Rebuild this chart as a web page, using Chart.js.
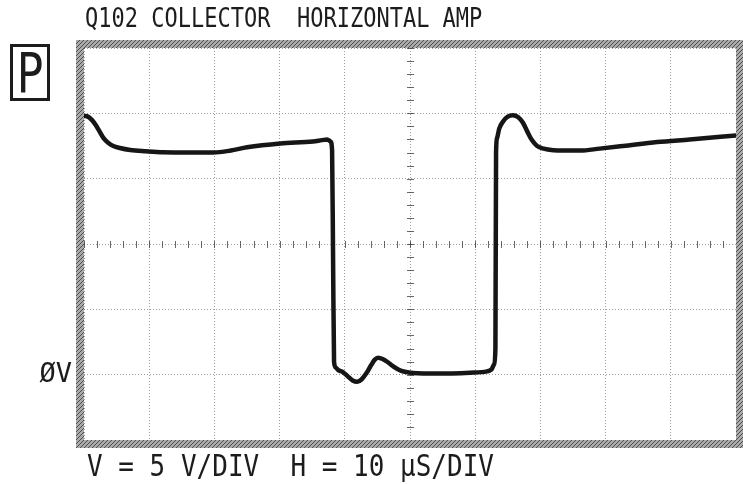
<!DOCTYPE html>
<html>
<head>
<meta charset="utf-8">
<title>Q102 COLLECTOR HORIZONTAL AMP</title>
<script src="https://cdn.jsdelivr.net/npm/chart.js@4/dist/chart.umd.min.js"></script>
<style>
  html, body { margin: 0; padding: 0; background: #fff; }
  #wrap { position: relative; width: 743px; height: 484px; overflow: hidden; }
  #scope { position: absolute; left: 0; top: 0; }
  .lbl { position: absolute; white-space: pre; font-family: "DejaVu Sans Mono", monospace; color: #1c1c1c;
         line-height: 1; transform-origin: 0 0; }
  #title { left: 85px; top: 5px; font-size: 22px; transform: scaleY(1.2); }
  #scale { left: 87px; top: 451px; font-size: 26px; transform: scaleY(1.15); }
  #probe { position: absolute; left: 10px; top: 44px; width: 34px; height: 51px; border: 3px solid #1c1c1c;
           font-family: "DejaVu Sans", sans-serif; font-size: 56px; line-height: 51px; text-align: center; color: #1c1c1c; }
  #probe span { display: inline-block; transform: scaleX(0.78); }
</style>
</head>
<body>
<div id="wrap">
  <canvas id="scope" width="743" height="484"></canvas>
  <div class="lbl" id="title">Q102 COLLECTOR  HORIZONTAL AMP</div>
  <div class="lbl" id="scale">V = 5 V/DIV  H = 10 μS/DIV</div>
  <div id="probe"><span>P</span></div>
</div>
<script>
// Sweep time (µs) and collector voltage (V) of the traced waveform
const timeUs = [0, 0.6, 1.2, 1.8, 2.4, 3.0, 3.7, 4.5, 5.5, 7.1, 9.5, 12.1, 16.0, 19.8, 22.5, 25.0,
  30.1, 35.1, 36.5, 37.3, 37.8, 38.05, 38.2, 38.35, 38.6, 39.0, 39.7, 40.5, 41.2, 41.9, 42.6, 43.3,
  44.0, 44.6, 45.1, 45.8, 46.6, 47.4, 48.2, 49.2, 50.5, 54.1, 59.2, 61.8, 62.5, 62.9, 63.1, 63.2,
  63.35, 63.7, 64.3, 65.0, 65.8, 66.6, 67.3, 68.0, 68.7, 69.5, 70.5, 72.0, 73.5, 76.1, 79.1, 82.7,
  87.9, 92.9, 100];
const volts = [19.8, 19.75, 19.5, 19.1, 18.6, 18.1, 17.75, 17.5, 17.35, 17.2, 17.1, 17.02, 17.0, 17.0, 17.15, 17.4,
  17.7, 17.85, 17.95, 18.0, 17.85, 17.2, 9.0, 1.0, 0.55, 0.35, 0.2, -0.15, -0.45, -0.55, -0.35, 0.1,
  0.7, 1.15, 1.3, 1.2, 0.95, 0.65, 0.4, 0.22, 0.12, 0.08, 0.15, 0.25, 0.4, 0.8, 2.0, 17.0,
  18.1, 18.85, 19.4, 19.75, 19.85, 19.7, 19.3, 18.6, 17.95, 17.5, 17.3, 17.18, 17.15, 17.15, 17.3, 17.5,
  17.8, 18.0, 18.3];

// Graticule: 10 horizontal divisions of 10 µs, 6 vertical divisions of 5 V
const timeTicks = [0, 10, 20, 30, 40, 50, 60, 70, 80, 90, 100];
const voltTicks = [-5, 0, 5, 10, 15, 20, 25];
const zeroLabel = 'ØV';

const points = timeUs.map((t, i) => ({ x: t, y: volts[i] }));

// Centre cross with minor subdivision marks (5 per division)
const centreCross = {
  id: 'centreCross',
  beforeDatasetsDraw(chart) {
    const { ctx, scales: { x, y } } = chart;
    const cx = x.getPixelForValue(50), cy = y.getPixelForValue(10);
    ctx.save();
    ctx.strokeStyle = 'rgba(40,40,40,0.7)';
    ctx.lineWidth = 1;
    for (let t = 0; t <= 100; t += 2) {
      const px = Math.round(x.getPixelForValue(t)) + 0.5;
      ctx.beginPath(); ctx.moveTo(px, cy - 3); ctx.lineTo(px, cy + 4); ctx.stroke();
    }
    for (let v = -5; v <= 25; v += 1) {
      const py = Math.round(y.getPixelForValue(v)) + 0.5;
      ctx.beginPath(); ctx.moveTo(cx - 3, py); ctx.lineTo(cx + 4, py); ctx.stroke();
    }
    ctx.restore();
  }
};

// Hatched bezel round the screen
const bezel = {
  id: 'bezel',
  afterDraw(chart) {
    const { ctx, chartArea: a } = chart;
    const pc = document.createElement('canvas');
    pc.width = 4; pc.height = 4;
    const p = pc.getContext('2d');
    p.fillStyle = '#ababab'; p.fillRect(0, 0, 4, 4);
    p.fillStyle = '#4d4d4d';
    p.fillRect(0, 3, 1, 1); p.fillRect(1, 2, 1, 1); p.fillRect(2, 1, 1, 1); p.fillRect(3, 0, 1, 1);
    ctx.save();
    ctx.strokeStyle = ctx.createPattern(pc, 'repeat');
    ctx.lineWidth = 8;
    ctx.strokeRect(a.left - 4, a.top - 4, a.right - a.left + 8, a.bottom - a.top + 8);
    ctx.restore();
  }
};

new Chart(document.getElementById('scope'), {
  type: 'line',
  data: {
    datasets: [{
      data: points,
      borderColor: '#161616',
      borderWidth: 4.5,
      pointRadius: 0,
      cubicInterpolationMode: 'monotone',
      borderCapStyle: 'round',
      borderJoinStyle: 'round',
      fill: false
    }]
  },
  options: {
    responsive: false,
    animation: false,
    devicePixelRatio: 1,
    layout: { padding: { left: 0, right: 7, top: 48, bottom: 44 } },
    plugins: { legend: { display: false }, tooltip: { enabled: false } },
    scales: {
      x: {
        type: 'linear', min: 0, max: 100,
        afterBuildTicks(s) { s.ticks = timeTicks.map(v => ({ value: v })); },
        afterFit(s) { s.height = 0; },
        ticks: { display: false },
        grid: { color: 'rgba(60,60,60,0.5)', lineWidth: 1, drawTicks: false },
        border: { display: false, dash: [1, 2] }
      },
      y: {
        type: 'linear', min: -5, max: 25,
        afterBuildTicks(s) { s.ticks = voltTicks.map(v => ({ value: v })); },
        afterFit(s) { s.width = 84; },
        ticks: {
          padding: 12,
          color: '#1c1c1c',
          font: { family: 'DejaVu Sans Mono', size: 27 },
          callback: v => (v === 0 ? zeroLabel : '')
        },
        grid: { color: 'rgba(60,60,60,0.5)', lineWidth: 1, drawTicks: false },
        border: { display: false, dash: [1, 2] }
      }
    }
  },
  plugins: [centreCross, bezel]
});
</script>
</body>
</html>
